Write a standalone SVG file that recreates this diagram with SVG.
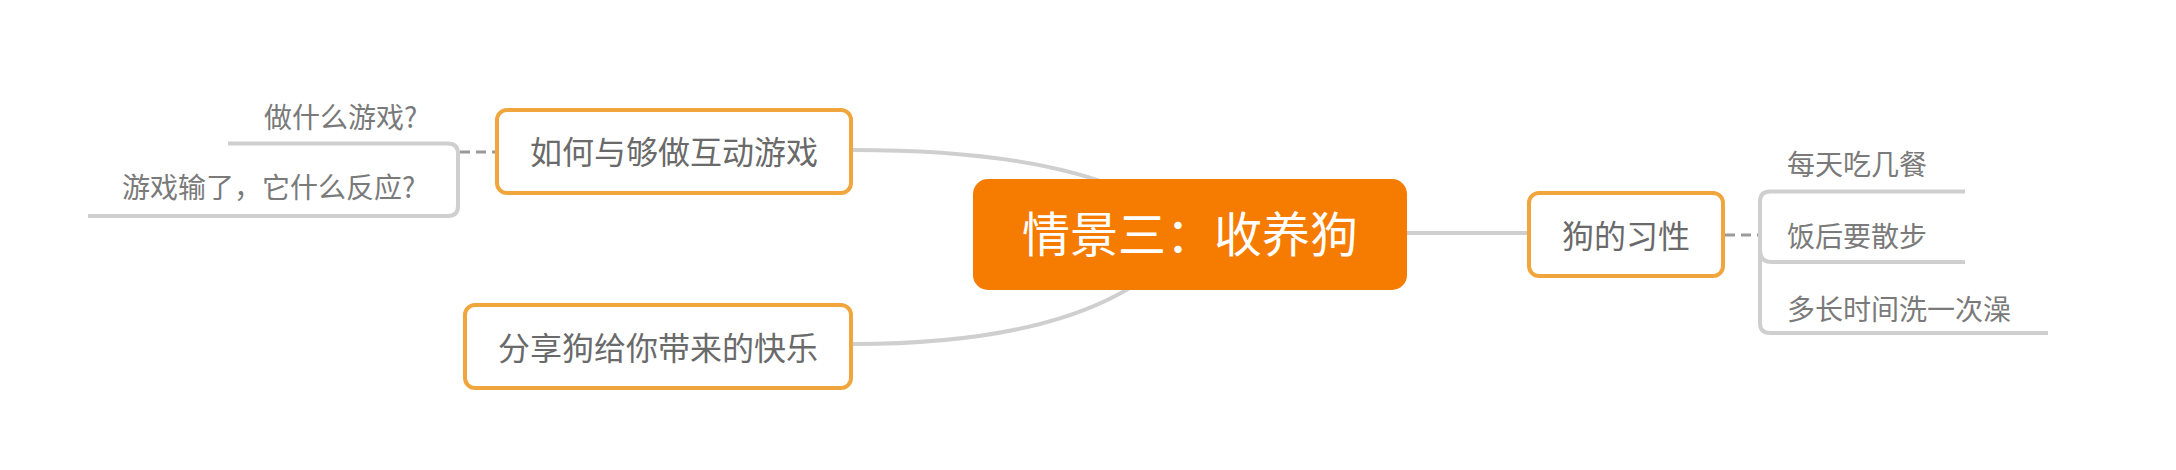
<svg xmlns="http://www.w3.org/2000/svg" width="2176" height="470" viewBox="0 0 2176 470">
<style>
  .conn { fill: none; stroke: #cfcfcf; stroke-width: 4; stroke-linecap: butt; }
  .dash { fill: none; stroke: #9a9a9a; stroke-width: 3; stroke-dasharray: 10 6; }
  .box { fill: #ffffff; stroke: #f0a63c; stroke-width: 4; }
  .main { font-family: "Noto Sans CJK SC", "Noto Sans", sans-serif; font-size: 32px; fill: #6a6a6a; text-anchor: middle; }
  .sub { font-family: "Noto Sans CJK SC", "Noto Sans", sans-serif; font-size: 28px; fill: #7a7a7a; }
  .center { font-family: "Noto Sans CJK SC", "Noto Sans", sans-serif; font-size: 48px; fill: #ffffff; text-anchor: middle; }
</style>
<rect width="2176" height="470" fill="#ffffff"/>
<g id="connectors">
  <path class="conn" d="M853,150 Q1110,150 1190,234"/>
  <path class="conn" d="M853,344 Q1110,344 1190,234"/>
  <path class="conn" d="M1400,233 H1527"/>
  <path class="dash" d="M460,152 H495"/>
  <path class="dash" d="M1725,235 H1760"/>
  <path class="conn" d="M228,143.5 H448 Q458,143.5 458,153.5 V206 Q458,216 448,216 H88"/>
  <path class="conn" d="M1965,191.5 H1770 Q1760,191.5 1760,201.5 V323 Q1760,333 1770,333 H2048"/>
  <path class="conn" d="M1760,250 Q1760,262 1772,262 H1965"/>
</g>
<g id="node-center">
  <rect x="973" y="179" width="434" height="111" rx="15" fill="#f57c00"/>
  <text class="center" x="1190" y="252">情景三：收养狗</text>
</g>
<g id="node-games">
  <rect class="box" x="497" y="110" width="354" height="83" rx="10"/>
  <text class="main" x="674" y="164">如何与够做互动游戏</text>
</g>
<g id="node-share">
  <rect class="box" x="465" y="305" width="386" height="83" rx="10"/>
  <text class="main" x="658" y="360">分享狗给你带来的快乐</text>
</g>
<g id="node-habits">
  <rect class="box" x="1529" y="193" width="194" height="83" rx="10"/>
  <text class="main" x="1626" y="248">狗的习性</text>
</g>
<g id="sub-what-game">
  <text class="sub" x="264" y="128">做什么游戏?</text>
</g>
<g id="sub-lose-game">
  <text class="sub" x="122" y="198">游戏输了，它什么反应?</text>
</g>
<g id="sub-meals">
  <text class="sub" x="1787" y="175">每天吃几餐</text>
</g>
<g id="sub-walk">
  <text class="sub" x="1787" y="247">饭后要散步</text>
</g>
<g id="sub-bath">
  <text class="sub" x="1787" y="320">多长时间洗一次澡</text>
</g>
</svg>
